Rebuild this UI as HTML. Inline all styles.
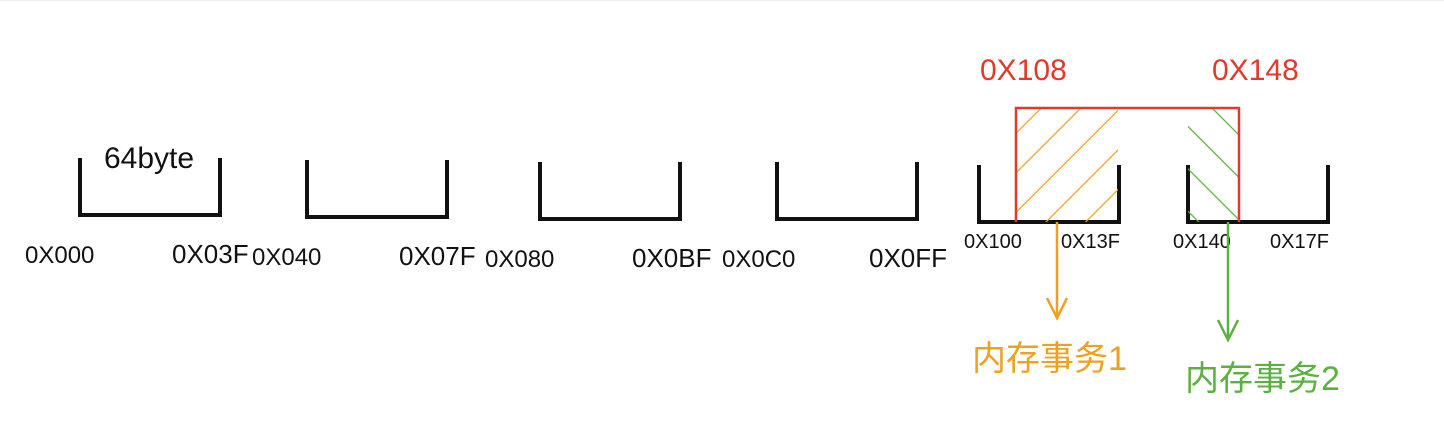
<!DOCTYPE html>
<html><head><meta charset="utf-8">
<style>
html,body{margin:0;padding:0;background:#fff;}
svg{display:block;}
text{font-family:"Liberation Sans","Noto Sans CJK SC",sans-serif;}
</style></head>
<body>
<svg id="chart" width="1444" height="441" viewBox="0 0 1444 441" xmlns="http://www.w3.org/2000/svg">
  <defs>
    <pattern id="hatchO" patternUnits="userSpaceOnUse" width="28" height="28" patternTransform="rotate(45)">
      <line x1="0" y1="0" x2="0" y2="28" stroke="#f0a020" stroke-width="2.5"/>
    </pattern>
    <pattern id="hatchG" patternUnits="userSpaceOnUse" width="30" height="30" patternTransform="rotate(-45)">
      <line x1="0" y1="0" x2="0" y2="30" stroke="#5cb040" stroke-width="2.5"/>
    </pattern>
  </defs>
  <line x1="0" y1="0.5" x2="1444" y2="0.5" stroke="#eee"/>
  <g id="blocks"></g>
  <rect x="1016" y="108" width="102" height="114" fill="url(#hatchO)"/>
  <rect x="1188" y="108" width="51" height="114" fill="url(#hatchG)"/>
  <polyline points="1016,222 1016,108 1239,108 1239,222" fill="none" stroke="#e03a2a" stroke-width="2.5"/>
  <text x="980" y="80" font-size="30" fill="#e03a2a">0X108</text>
  <text x="1212" y="80" font-size="30" fill="#e03a2a">0X148</text>
  <text x="104" y="168" font-size="30" fill="#111">64byte</text>
  <line x1="1057" y1="222" x2="1057" y2="318" stroke="#f0a020" stroke-width="2.5"/>
  <polyline points="1047,298 1057,318 1067,298" fill="none" stroke="#f0a020" stroke-width="2.5"/>
  <text x="972" y="370" font-size="34" fill="#f0a020">内存事务1</text>
  <line x1="1228" y1="222" x2="1228" y2="340" stroke="#5cb040" stroke-width="2.5"/>
  <polyline points="1218,320 1228,340 1238,320" fill="none" stroke="#5cb040" stroke-width="2.5"/>
  <text x="1185" y="390" font-size="34" fill="#5cb040">内存事务2</text>
</svg>
<script>
const startLabels = ["0X000","0X040","0X080","0X0C0","0X100","0X140"];
const endLabels = ["0X03F","0X07F","0X0BF","0X0FF","0X13F","0X17F"];
const blockIndex = [0,1,2,3,4,5];
const ns="http://www.w3.org/2000/svg";
const g=document.getElementById('blocks');
const lefts=[80,307,540,777,979,1188];
const tops=[158,160,162,162,165,165];
blockIndex.forEach(i=>{
  const x=lefts[i], t=tops[i], b=t+57, w=140;
  const p=document.createElementNS(ns,'polyline');
  p.setAttribute('points',`${x},${t} ${x},${b} ${x+w},${b} ${x+w},${t}`);
  p.setAttribute('fill','none');p.setAttribute('stroke','#111');p.setAttribute('stroke-width','4');
  
  
  g.appendChild(p);
  const s=document.createElementNS(ns,'text');
  s.setAttribute('x',x-55+ (i>=4?40:0));s.setAttribute('y',b+48-(i>=4?22:0));
  s.setAttribute('font-size',i>=4?'20':'24');s.setAttribute('fill','#111');
  s.textContent=startLabels[i];
  
  
  g.appendChild(s);
  const e=document.createElementNS(ns,'text');
  e.setAttribute('x',x+w-48+(i>=4?-10:0));e.setAttribute('y',b+48-(i>=4?22:0));
  e.setAttribute('font-size',i>=4?'20':'26');e.setAttribute('fill','#111');
  e.textContent=endLabels[i];
  
  
  g.appendChild(e);
});
</script>
</body></html>
